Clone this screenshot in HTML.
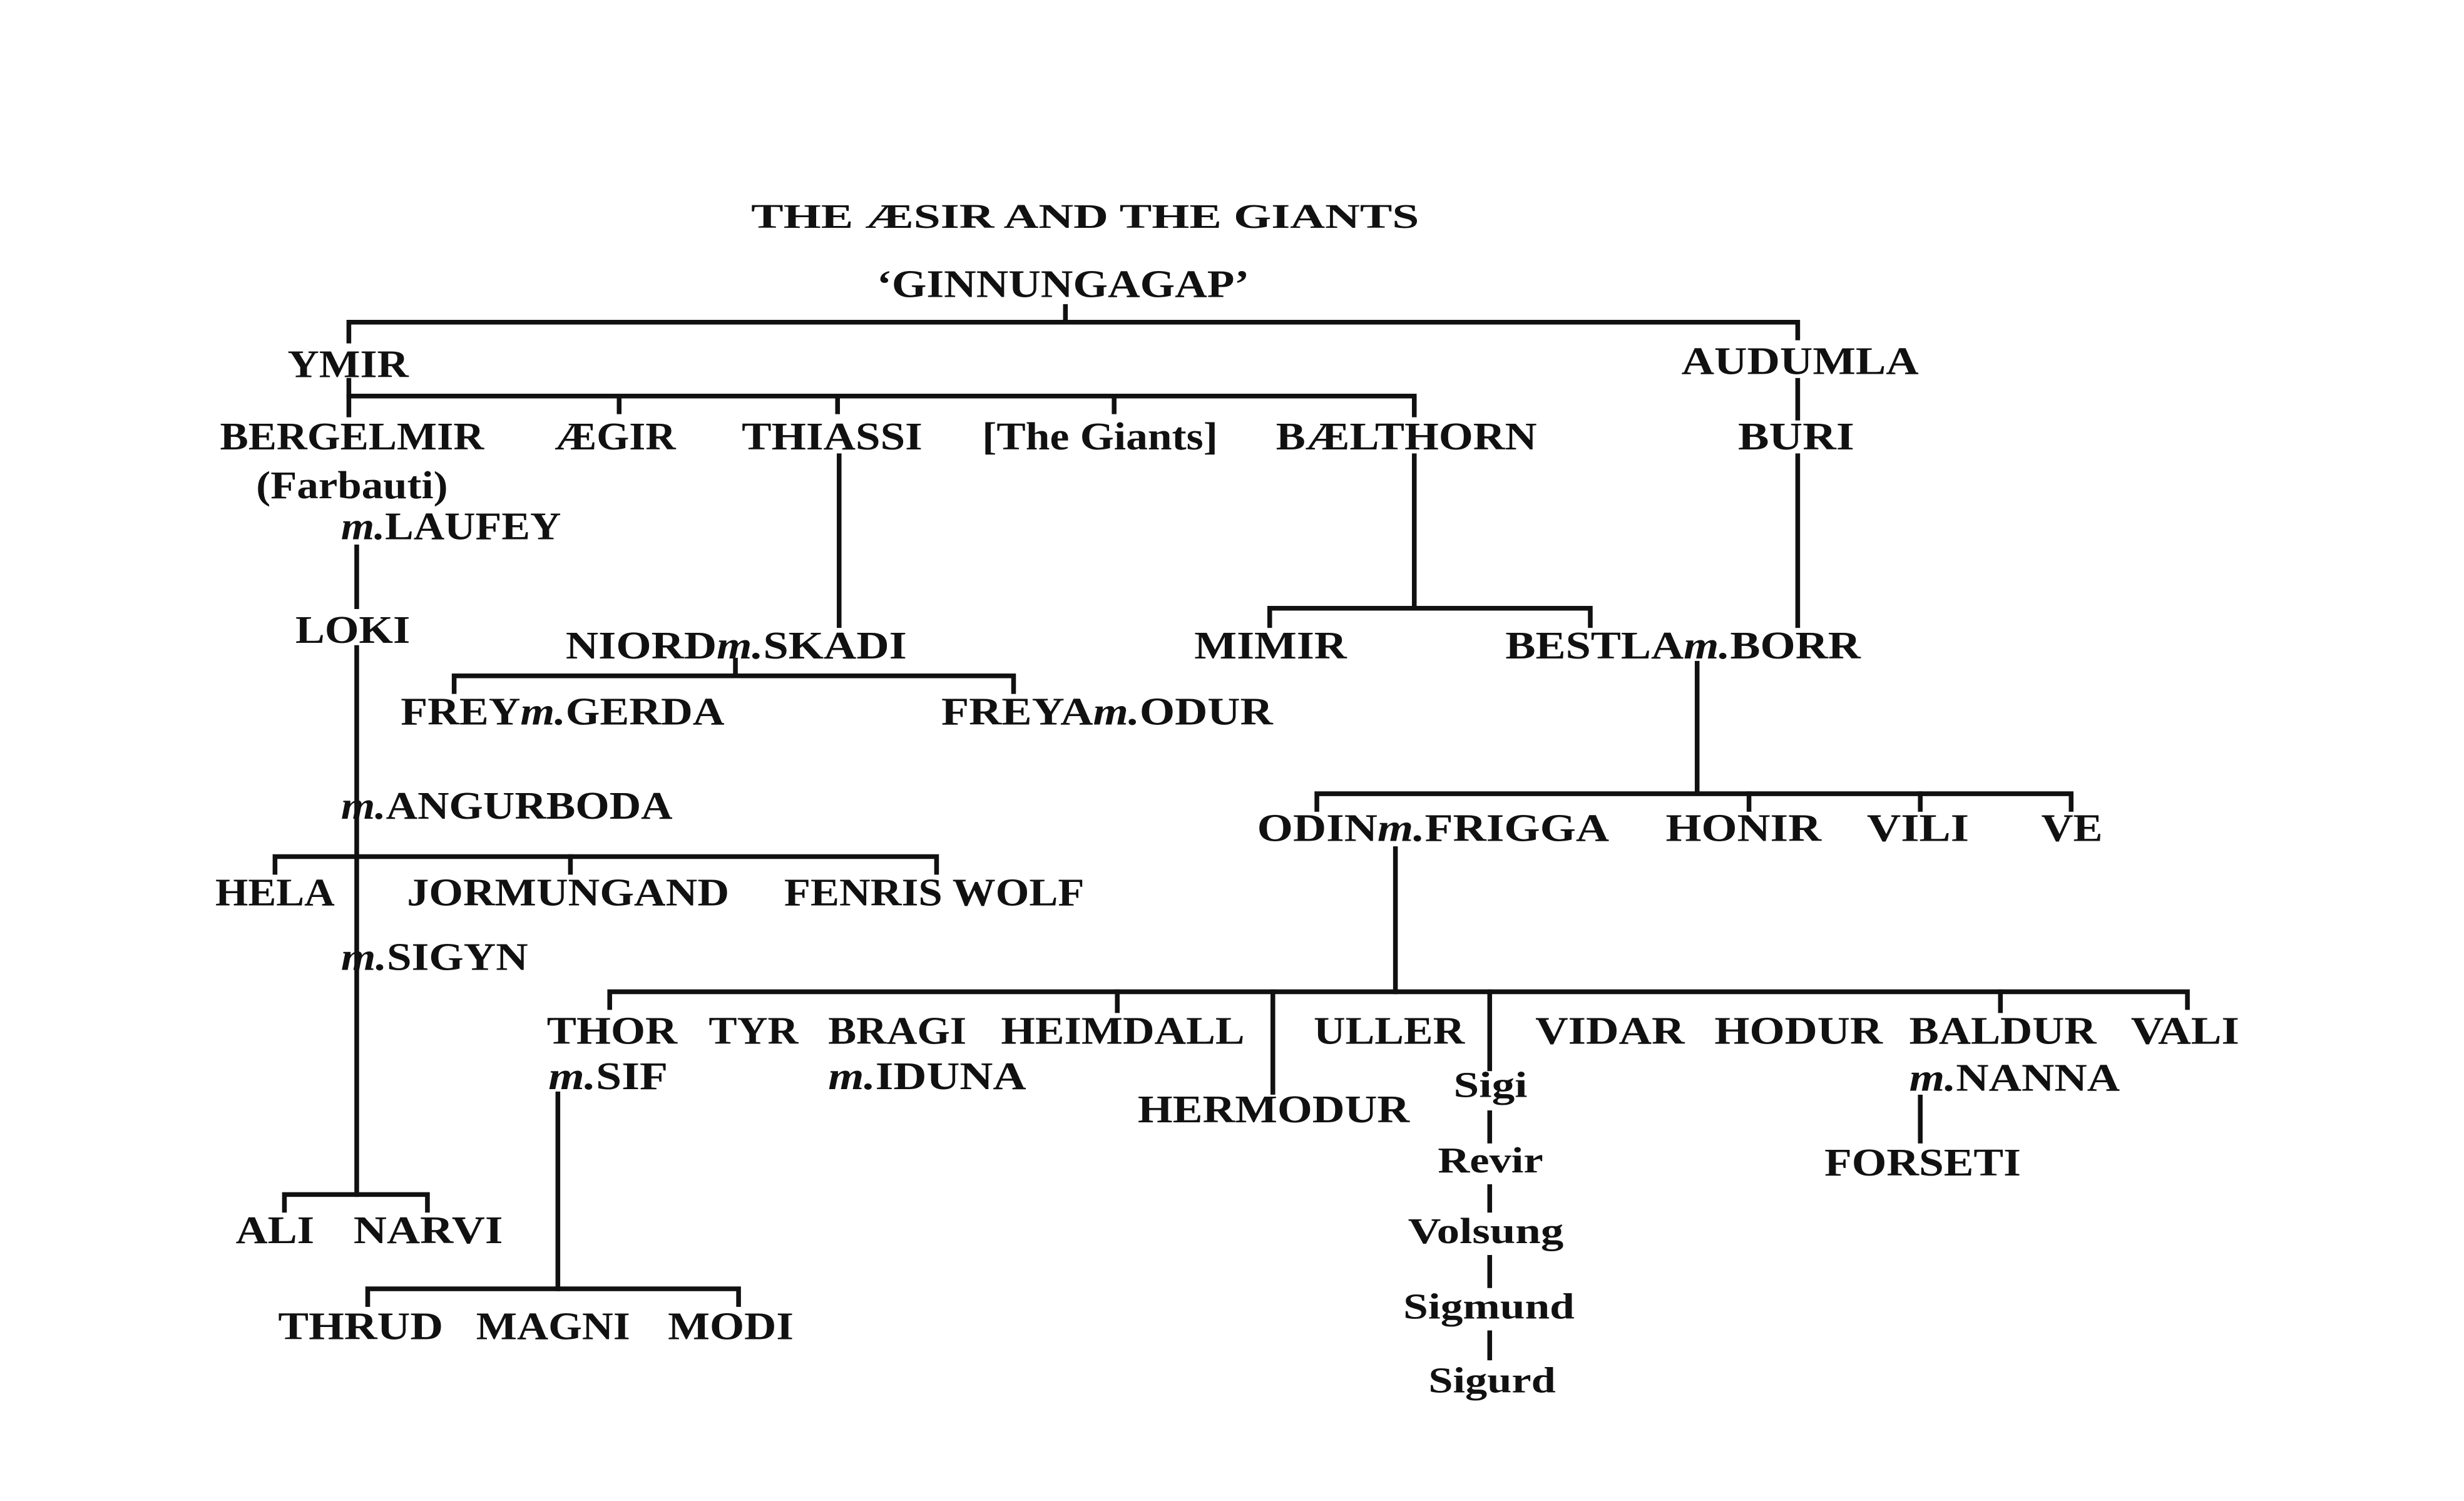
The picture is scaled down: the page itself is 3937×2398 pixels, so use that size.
<!DOCTYPE html>
<html><head><meta charset="utf-8"><style>
html,body{margin:0;padding:0;background:#fff;}
svg{display:block;}
text{font-family:"Liberation Serif",serif;font-weight:bold;fill:#111;}
</style></head><body>
<svg width="3937" height="2398" viewBox="0 0 1568 955" preserveAspectRatio="none" xmlns="http://www.w3.org/2000/svg">
<rect width="1568" height="955" fill="#fff"/>
<g stroke="#111" stroke-width="3" fill="none" stroke-linecap="square">
<path d="M222 217 V205 H1144 V215"/><path d="M678 195 V205"/>
<path d="M222 242 V252 H900 V264"/><path d="M222 252 V264"/><path d="M394 252 V262"/><path d="M533 252 V262"/><path d="M709 252 V262"/>
<path d="M1144 242 V266"/><path d="M1144 290 V398"/>
<path d="M534 290 V398"/>
<path d="M900 290 V386"/><path d="M808 398 V387 H1012 V398"/>
<path d="M1080 422 V503"/><path d="M838 515 V505 H1318 V515"/><path d="M1113 505 V515"/><path d="M1222 505 V515"/>
<path d="M289 440 V430 H645 V440"/><path d="M468 420 V430"/>
<path d="M227 348 V386"/><path d="M227 412 V760"/>
<path d="M175 555 V545 H596 V555"/><path d="M363 545 V555"/>
<path d="M181 770 V760 H272 V770"/>
<path d="M888 540 V631"/><path d="M388 641 V631 H1392 V641"/><path d="M711 631 V643"/><path d="M810 631 V695"/><path d="M948 631 V680"/><path d="M1273 631 V643"/>
<path d="M948 708 V726"/><path d="M948 755 V770"/><path d="M948 800 V818"/><path d="M948 848 V864"/>
<path d="M1222 698 V726"/>
<path d="M355 696 V820"/><path d="M234 830 V820 H470 V830"/>
</g>
<g font-size="25">
<text x="478" y="145" font-size="22" textLength="425" lengthAdjust="spacingAndGlyphs">THE ÆSIR AND THE GIANTS</text>
<text x="558" y="189" textLength="237" lengthAdjust="spacingAndGlyphs">‘GINNUNGAGAP’</text>
<text x="183" y="240" textLength="77" lengthAdjust="spacingAndGlyphs">YMIR</text>
<text x="1070" y="238" textLength="151" lengthAdjust="spacingAndGlyphs">AUDUMLA</text>
<text x="140" y="286" textLength="168" lengthAdjust="spacingAndGlyphs">BERGELMIR</text>
<text x="353" y="286" textLength="77" lengthAdjust="spacingAndGlyphs">ÆGIR</text>
<text x="472" y="286" textLength="115" lengthAdjust="spacingAndGlyphs">THIASSI</text>
<text x="625" y="286" textLength="150" lengthAdjust="spacingAndGlyphs">[The Giants]</text>
<text x="812" y="286" textLength="166" lengthAdjust="spacingAndGlyphs">BÆLTHORN</text>
<text x="1106" y="286" textLength="74" lengthAdjust="spacingAndGlyphs">BURI</text>
<text x="163" y="317" textLength="122" lengthAdjust="spacingAndGlyphs">(Farbauti)</text>
<text x="217" y="343" textLength="140" lengthAdjust="spacingAndGlyphs"><tspan font-style="italic">m.</tspan>LAUFEY</text>
<text x="188" y="409" textLength="73" lengthAdjust="spacingAndGlyphs">LOKI</text>
<text x="360" y="419" textLength="217" lengthAdjust="spacingAndGlyphs">NIORD<tspan font-style="italic">m.</tspan>SKADI</text>
<text x="760" y="419" textLength="97" lengthAdjust="spacingAndGlyphs">MIMIR</text>
<text x="958" y="419" textLength="226" lengthAdjust="spacingAndGlyphs">BESTLA<tspan font-style="italic">m.</tspan>BORR</text>
<text x="255" y="461" textLength="206" lengthAdjust="spacingAndGlyphs">FREY<tspan font-style="italic">m.</tspan>GERDA</text>
<text x="599" y="461" textLength="211" lengthAdjust="spacingAndGlyphs">FREYA<tspan font-style="italic">m.</tspan>ODUR</text>
<text x="217" y="521" textLength="211" lengthAdjust="spacingAndGlyphs"><tspan font-style="italic">m.</tspan>ANGURBODA</text>
<text x="800" y="535" textLength="224" lengthAdjust="spacingAndGlyphs">ODIN<tspan font-style="italic">m.</tspan>FRIGGA</text>
<text x="1060" y="535" textLength="99" lengthAdjust="spacingAndGlyphs">HONIR</text>
<text x="1188" y="535" textLength="65" lengthAdjust="spacingAndGlyphs">VILI</text>
<text x="1299" y="535" textLength="39" lengthAdjust="spacingAndGlyphs">VE</text>
<text x="137" y="576" textLength="76" lengthAdjust="spacingAndGlyphs">HELA</text>
<text x="259" y="576" textLength="205" lengthAdjust="spacingAndGlyphs">JORMUNGAND</text>
<text x="499" y="576" textLength="191" lengthAdjust="spacingAndGlyphs">FENRIS WOLF</text>
<text x="217" y="617" textLength="119" lengthAdjust="spacingAndGlyphs"><tspan font-style="italic">m.</tspan>SIGYN</text>
<text x="348" y="664" textLength="83" lengthAdjust="spacingAndGlyphs">THOR</text>
<text x="451" y="664" textLength="57" lengthAdjust="spacingAndGlyphs">TYR</text>
<text x="527" y="664" textLength="88" lengthAdjust="spacingAndGlyphs">BRAGI</text>
<text x="637" y="664" textLength="155" lengthAdjust="spacingAndGlyphs">HEIMDALL</text>
<text x="836" y="664" textLength="96" lengthAdjust="spacingAndGlyphs">ULLER</text>
<text x="977" y="664" textLength="95" lengthAdjust="spacingAndGlyphs">VIDAR</text>
<text x="1091" y="664" textLength="107" lengthAdjust="spacingAndGlyphs">HODUR</text>
<text x="1215" y="664" textLength="119" lengthAdjust="spacingAndGlyphs">BALDUR</text>
<text x="1356" y="664" textLength="69" lengthAdjust="spacingAndGlyphs">VALI</text>
<text x="349" y="693" textLength="76" lengthAdjust="spacingAndGlyphs"><tspan font-style="italic">m.</tspan>SIF</text>
<text x="527" y="693" textLength="126" lengthAdjust="spacingAndGlyphs"><tspan font-style="italic">m.</tspan>IDUNA</text>
<text x="1215" y="694" textLength="134" lengthAdjust="spacingAndGlyphs"><tspan font-style="italic">m.</tspan>NANNA</text>
<text x="724" y="714" textLength="173" lengthAdjust="spacingAndGlyphs">HERMODUR</text>
<text x="1161" y="748" textLength="125" lengthAdjust="spacingAndGlyphs">FORSETI</text>
<text x="150" y="791" textLength="50" lengthAdjust="spacingAndGlyphs">ALI</text>
<text x="225" y="791" textLength="95" lengthAdjust="spacingAndGlyphs">NARVI</text>
<text x="177" y="852" textLength="105" lengthAdjust="spacingAndGlyphs">THRUD</text>
<text x="303" y="852" textLength="98" lengthAdjust="spacingAndGlyphs">MAGNI</text>
<text x="425" y="852" textLength="80" lengthAdjust="spacingAndGlyphs">MODI</text>
</g>
<g font-size="23">
<text x="925" y="698" textLength="47" lengthAdjust="spacingAndGlyphs">Sigi</text>
<text x="915" y="746" textLength="67" lengthAdjust="spacingAndGlyphs">Revir</text>
<text x="896" y="791" textLength="99" lengthAdjust="spacingAndGlyphs">Volsung</text>
<text x="893" y="839" textLength="109" lengthAdjust="spacingAndGlyphs">Sigmund</text>
<text x="909" y="886" textLength="81" lengthAdjust="spacingAndGlyphs">Sigurd</text>
</g>
</svg>
</body></html>
